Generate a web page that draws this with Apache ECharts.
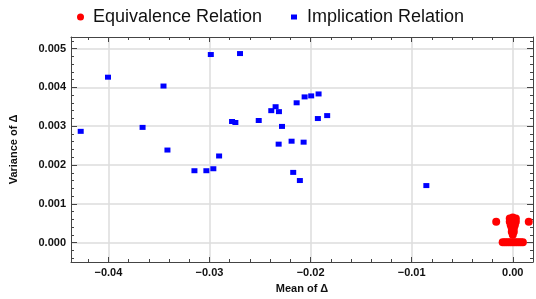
<!DOCTYPE html>
<html>
<head>
<meta charset="utf-8">
<script src="https://cdn.jsdelivr.net/npm/echarts@6/dist/echarts.min.js"></script>
<style>
  html, body { margin: 0; padding: 0; background: #fff; }
  #chart { width: 536px; height: 299px; }
</style>
</head>
<body>
<div id="chart"></div>
<script>
// Implication relation points: [mean, variance]
const implicationData = [
  [-0.04274, 0.002868], [-0.04004, 0.004264], [-0.03662, 0.00297], [-0.03455, 0.004036],
  [-0.03416, 0.002386], [-0.03149, 0.001853], [-0.03031, 0.001853], [-0.02987, 0.004848],
  [-0.02962, 0.001904], [-0.02905, 0.002233], [-0.02777, 0.003122], [-0.02744, 0.003096],
  [-0.02698, 0.004873], [-0.02513, 0.003147], [-0.02389, 0.003401], [-0.02346, 0.003503],
  [-0.02313, 0.003376], [-0.02316, 0.002538], [-0.02283, 0.002995], [-0.02188, 0.002614],
  [-0.02172, 0.00181], [-0.02138, 0.003604], [-0.02106, 0.0016], [-0.02069, 0.002589],
  [-0.02059, 0.003756], [-0.01994, 0.003782], [-0.01921, 0.003832], [-0.01928, 0.003198],
  [-0.01836, 0.003274], [-0.00855, 0.00147]
]
// Equivalence relation points: [mean, variance]
const equivalenceData = [
  [-0.00164, 0.00054], [0.00158, 0.00054],
  [-0.0003, 0.00062], [0.0, 0.00065], [0.0003, 0.00062],
  [-0.0003, 0.00054], [0.0003, 0.00054], [0.0, 0.00055],
  [-0.0002, 0.00045], [0.0002, 0.00045], [-0.0001, 0.00037], [0.0001, 0.00037],
  [-0.0001, 0.00028], [0.0001, 0.00028], [0.0, 0.0002],
  [-0.001, 0.00001], [-0.0008, 0.00001], [-0.0006, 0.00001], [-0.0004, 0.00001],
  [-0.0002, 0.00001], [0.0, 0.00001], [0.0002, 0.00001], [0.0004, 0.00001],
  [0.0006, 0.00001], [0.0008, 0.00001], [0.001, 0.00001]
]
const xMajorTicks = [-0.04, -0.03, -0.02, -0.01, 0]
const yMajorTicks = [0, 0.001, 0.002, 0.003, 0.004, 0.005]
const xRange = [-0.0437, 0.002]
const yRange = [-0.0005, 0.0053]

const minorTicks = ( range, step ) => {
  const out = []
  for ( let i = Math.ceil( range[0] / step - 1e-9 ); i * step <= range[1] + 1e-12; i++ ) {
    out.push( +( i * step ).toFixed( 6 ) )
  }
  return out
}
const xMinorTicks = minorTicks( xRange, 0.002 )
const yMinorTicks = minorTicks( yRange, 0.0002 )

const fmt = ( digits ) => ( v ) => ( v < 0 ? '\u2212' : '' ) + Math.abs( v ).toFixed( digits )

const frameColor = '#444'
const gridColor = '#dcdcdc'
const labelFont = { fontFamily : 'Liberation Sans', fontWeight : 'bold', fontSize : 11, color : '#111' }
const legendFont = { fontFamily : 'Liberation Sans', fontSize : 18, color : '#111' }

const frameAxis = ( position, ticks, length, extra ) => Object.assign( {
  type : 'value',
  position : position,
  axisLine : { show : true, onZero : false, lineStyle : { color : frameColor, width : 1 } },
  axisTick : { show : true, inside : true, length : length, customValues : ticks, lineStyle : { color : frameColor } },
  axisLabel : { show : false },
  splitLine : { show : false }
}, extra )
const hiddenLine = { show : false, onZero : false }

const chart = echarts.init( document.getElementById( 'chart' ) )

chart.setOption( {
  animation : false,
  backgroundColor : '#fff',
  legend : [
    {
      left : 72,
      top : 3,
      itemWidth : 7,
      itemHeight : 7,
      data : [{ name : 'Equivalence Relation', icon : 'circle' }],
      textStyle : Object.assign( { padding : [0, 0, 0, 4] }, legendFont )
    },
    {
      left : 286,
      top : 3,
      itemWidth : 6,
      itemHeight : 5,
      data : [{ name : 'Implication Relation', icon : 'rect' }],
      textStyle : Object.assign( { padding : [0, 0, 0, 5] }, legendFont )
    }
  ],
  grid : {
    left : 70,
    right : 3,
    top : 37,
    bottom : 33,
    containLabel : false
  },
  xAxis : [
    frameAxis( 'bottom', xMajorTicks, 5, {
      min : xRange[0],
      max : xRange[1],
      name : 'Mean of \u0394',
      nameLocation : 'middle',
      nameGap : 21,
      nameTextStyle : labelFont,
      axisLabel : Object.assign( { show : true, margin : 5, customValues : xMajorTicks, formatter : fmt( 2 ) }, labelFont ),
      splitLine : { show : true, lineStyle : { color : gridColor, width : 1.5 } }
    } ),
    frameAxis( 'bottom', xMinorTicks, 3, { min : xRange[0], max : xRange[1], axisLine : hiddenLine } ),
    frameAxis( 'top', xMajorTicks, 5, { min : xRange[0], max : xRange[1] } ),
    frameAxis( 'top', xMinorTicks, 3, { min : xRange[0], max : xRange[1], axisLine : hiddenLine } )
  ],
  yAxis : [
    frameAxis( 'left', yMajorTicks, 6, {
      min : yRange[0],
      max : yRange[1],
      name : 'Variance of \u0394',
      nameLocation : 'middle',
      nameGap : 52,
      nameTextStyle : labelFont,
      axisLabel : Object.assign( { show : true, margin : 5, customValues : yMajorTicks, formatter : fmt( 3 ) }, labelFont ),
      splitLine : { show : true, lineStyle : { color : gridColor, width : 1.5 } }
    } ),
    frameAxis( 'left', yMinorTicks, 3, { min : yRange[0], max : yRange[1], axisLine : hiddenLine } ),
    frameAxis( 'right', yMajorTicks, 6, { min : yRange[0], max : yRange[1] } ),
    frameAxis( 'right', yMinorTicks, 3, { min : yRange[0], max : yRange[1], axisLine : hiddenLine } )
  ],
  series : [
    {
      name : 'Equivalence Relation',
      type : 'scatter',
      xAxisIndex : 0,
      yAxisIndex : 0,
      symbol : 'circle',
      symbolSize : 8,
      itemStyle : { color : '#ff0000', opacity : 1 },
      data : equivalenceData
    },
    {
      name : 'Implication Relation',
      type : 'scatter',
      xAxisIndex : 0,
      yAxisIndex : 0,
      symbol : 'rect',
      symbolSize : [6, 5],
      itemStyle : { color : '#0000ff', opacity : 1 },
      data : implicationData
    }
  ]
} )
</script>
</body>
</html>
